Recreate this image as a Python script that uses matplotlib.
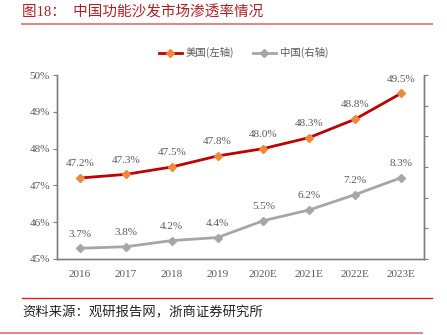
import matplotlib

matplotlib.use("Agg")

import matplotlib.pyplot as plt
from matplotlib.lines import Line2D
from matplotlib.ticker import FixedLocator, NullFormatter
import numpy as np

plt.rcParams["font.family"] = ["Liberation Serif", "Noto Sans CJK SC"]

years = ["2016", "2017", "2018", "2019", "2020E", "2021E", "2022E", "2023E"]
us_rate = [47.2, 47.3, 47.5, 47.8, 48.0, 48.3, 48.8, 49.5]
cn_rate = [3.7, 3.8, 4.2, 4.4, 5.5, 6.2, 7.2, 8.3]

RED = "#c00000"
ORANGE = "#f0883a"
GRAY = "#a6a6a6"
AXIS = "#7f7f7f"
TEXT = "#595959"

fig = plt.figure(figsize=(4.47, 3.35), dpi=100)
ax = fig.add_axes([0.1275, 0.2269, 0.821, 0.5492])
ax2 = ax.twinx()

x = np.arange(len(years))
ax.plot(x, us_rate, color=RED, lw=2.0, marker="D", ms=4, mfc=ORANGE, mec=ORANGE, zorder=3)
ax2.plot(x, cn_rate, color=GRAY, lw=2.0, marker="D", ms=4, mfc=GRAY, mec=GRAY, zorder=3)

for xi, v in zip(x, us_rate):
    ax.annotate(f"{v:.1f}%", (xi, v), xytext=(0, 7), textcoords="offset points",
                ha="center", va="bottom", fontsize=8, color=TEXT)
for xi, v in zip(x, cn_rate):
    ax2.annotate(f"{v:.1f}%", (xi, v), xytext=(0, 7), textcoords="offset points",
                 ha="center", va="bottom", fontsize=8, color=TEXT)

ax.set_xlim(-0.5, len(years) - 0.5)
ax.set_ylim(45, 50)
ax.set_yticks(np.arange(45, 50.5, 1))
ax.set_yticklabels([f"{int(t)}%" for t in np.arange(45, 50.5, 1)])
ax.set_xticks(x)
ax.set_xticklabels(years)
ax2.set_ylim(3, 15)
ax2.yaxis.set_major_locator(FixedLocator(np.arange(3, 15.5, 2)))
ax2.yaxis.set_major_formatter(NullFormatter())

for a in (ax, ax2):
    a.spines["top"].set_visible(False)
    for side in ("left", "right", "bottom"):
        a.spines[side].set_color(AXIS)
        a.spines[side].set_linewidth(1.0)
ax.tick_params(axis="y", direction="out", length=3, color=AXIS, labelsize=8, labelcolor=TEXT, pad=2)
ax.tick_params(axis="x", length=0, labelsize=8, labelcolor=TEXT, pad=8)
ax2.tick_params(axis="y", direction="out", length=3, color=AXIS)

handles = [
    Line2D([], [], color=RED, lw=2.0, marker="D", ms=4, mfc=ORANGE, mec=ORANGE),
    Line2D([], [], color=GRAY, lw=2.0, marker="D", ms=4, mfc=GRAY, mec=GRAY),
]
fig.legend(handles, ["美国(左轴)", "中国(右轴)"], loc="center", bbox_to_anchor=(0.545, 0.842),
           ncol=2, frameon=False, handlelength=2.2, handletextpad=0.4, columnspacing=1.8,
           labelcolor=TEXT, prop={"family": ["Noto Sans CJK SC"], "size": 7.5})

fig.text(0.049, 0.962, "图18：  中国功能沙发市场渗透率情况", color="#b01f24", fontsize=10.5,
         ha="left", va="center", family=["Liberation Serif", "Noto Sans CJK SC"])
fig.add_artist(Line2D([0.049, 0.966], [0.928, 0.928], color="#e87878", lw=1.3))
fig.add_artist(Line2D([0.049, 0.966], [0.11, 0.11], color="#d81e1e", lw=1.0))
fig.text(0.049, 0.066, "资料来源：观研报告网，浙商证券研究所", color="#222222", fontsize=9.6,
         ha="left", va="center", family=["Noto Sans CJK SC"])
fig.add_artist(Line2D([0.0, 0.944], [0.006, 0.006], color="#e87878", lw=1.3))

fig.savefig("out.png", dpi=100)
